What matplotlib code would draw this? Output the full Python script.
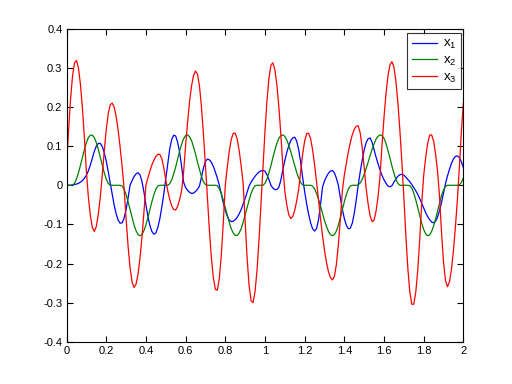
import numpy as np
import matplotlib
matplotlib.use("Agg")
import matplotlib.pyplot as plt

x_start, x_stop = 0.0, 2.0

x1 = [0.000, 0.000, 0.000, 0.001, 0.002, 0.003, 0.005, 0.008, 0.012, 0.018,
      0.026, 0.037, 0.052, 0.070, 0.087, 0.100, 0.107, 0.107, 0.099, 0.083,
      0.062, 0.035, 0.006, -0.024, -0.051, -0.073, -0.089, -0.097, -0.096, -0.084,
      -0.062, -0.033, 0.000, 0.012, 0.022, 0.029, 0.032, 0.027, 0.010, -0.017,
      -0.050, -0.079, -0.103, -0.118, -0.125, -0.122, -0.108, -0.086, -0.056, -0.022,
      0.017, 0.058, 0.093, 0.117, 0.128, 0.126, 0.110, 0.084, 0.048, 0.008,
      -0.006, -0.013, -0.018, -0.021, -0.020, -0.016, -0.010, -0.002, 0.021, 0.044,
      0.061, 0.067, 0.065, 0.059, 0.048, 0.034, 0.018, 0.000, -0.023, -0.045,
      -0.064, -0.079, -0.089, -0.093, -0.092, -0.088, -0.082, -0.073, -0.062, -0.048,
      -0.034, -0.018, -0.002, 0.008, 0.016, 0.023, 0.029, 0.034, 0.037, 0.038,
      0.036, 0.027, 0.015, 0.000, -0.007, -0.011, -0.011, -0.005, 0.013, 0.039,
      0.063, 0.084, 0.101, 0.114, 0.121, 0.123, 0.113, 0.091, 0.059, 0.020,
      -0.016, -0.047, -0.074, -0.096, -0.111, -0.117, -0.111, -0.088, -0.050, -0.005,
      0.011, 0.022, 0.031, 0.036, 0.038, 0.032, 0.018, 0.000, -0.032, -0.061,
      -0.085, -0.102, -0.111, -0.110, -0.097, -0.072, -0.038, 0.000, 0.034, 0.064,
      0.090, 0.109, 0.119, 0.121, 0.110, 0.091, 0.072, 0.055, 0.039, 0.025,
      0.014, 0.005, -0.002, -0.004, -0.001, 0.008, 0.016, 0.023, 0.027, 0.028,
      0.026, 0.021, 0.015, 0.009, 0.002, -0.006, -0.014, -0.023, -0.034, -0.046,
      -0.058, -0.070, -0.080, -0.088, -0.094, -0.096, -0.092, -0.081, -0.065, -0.044,
      -0.020, 0.004, 0.024, 0.041, 0.056, 0.067, 0.074, 0.075, 0.071, 0.060,
      0.045]

x2 = [0.000, 0.000, 0.000, 0.000, 0.005, 0.016, 0.032, 0.051, 0.072, 0.092,
      0.109, 0.122, 0.128, 0.128, 0.122, 0.109, 0.092, 0.072, 0.051, 0.032,
      0.016, 0.005, 0.000, 0.000, 0.000, 0.000, 0.000, 0.000, -0.002, -0.010,
      -0.024, -0.042, -0.062, -0.083, -0.101, -0.116, -0.126, -0.129, -0.126, -0.116,
      -0.101, -0.083, -0.062, -0.042, -0.024, -0.010, -0.002, 0.000, 0.000, 0.000,
      0.000, 0.000, 0.004, 0.014, 0.029, 0.047, 0.068, 0.088, 0.105, 0.119,
      0.127, 0.129, 0.124, 0.114, 0.098, 0.080, 0.059, 0.040, 0.022, 0.009,
      0.002, 0.000, 0.000, 0.000, 0.000, 0.000, -0.001, -0.009, -0.021, -0.038,
      -0.057, -0.076, -0.095, -0.111, -0.122, -0.128, -0.128, -0.122, -0.111, -0.095,
      -0.076, -0.057, -0.038, -0.021, -0.009, -0.001, 0.000, 0.000, 0.000, 0.000,
      0.005, 0.016, 0.032, 0.050, 0.071, 0.090, 0.107, 0.120, 0.127, 0.129,
      0.125, 0.116, 0.102, 0.086, 0.068, 0.050, 0.033, 0.018, 0.007, 0.001,
      0.000, 0.000, 0.000, 0.000, -0.002, -0.009, -0.021, -0.036, -0.053, -0.072,
      -0.090, -0.105, -0.118, -0.126, -0.129, -0.126, -0.117, -0.102, -0.083, -0.062,
      -0.042, -0.024, -0.010, -0.002, 0.000, 0.000, 0.000, 0.001, 0.006, 0.015,
      0.028, 0.043, 0.059, 0.076, 0.092, 0.106, 0.118, 0.125, 0.129, 0.127,
      0.120, 0.107, 0.089, 0.070, 0.049, 0.031, 0.015, 0.005, 0.000, 0.000,
      0.000, 0.000, 0.000, -0.001, -0.007, -0.020, -0.037, -0.057, -0.078, -0.097,
      -0.113, -0.124, -0.129, -0.127, -0.118, -0.104, -0.086, -0.066, -0.045, -0.026,
      -0.012, -0.003, 0.000, 0.000, 0.000, 0.000, 0.000, 0.000, 0.001, 0.007,
      0.019]

x3 = [0.048, 0.140, 0.219, 0.279, 0.313, 0.319, 0.300, 0.258, 0.197, 0.121,
      0.035, -0.031, -0.078, -0.108, -0.118, -0.105, -0.074, -0.030, 0.026, 0.088,
      0.142, 0.183, 0.206, 0.210, 0.200, 0.176, 0.141, 0.097, 0.048, -0.008,
      -0.085, -0.155, -0.210, -0.247, -0.261, -0.253, -0.228, -0.187, -0.133, -0.069,
      0.000, 0.019, 0.036, 0.052, 0.064, 0.074, 0.079, 0.079, 0.068, 0.045,
      0.014, -0.014, -0.036, -0.053, -0.062, -0.063, -0.054, -0.036, -0.013, 0.034,
      0.101, 0.161, 0.214, 0.254, 0.281, 0.292, 0.284, 0.253, 0.200, 0.131,
      0.051, -0.034, -0.115, -0.186, -0.237, -0.266, -0.268, -0.238, -0.178, -0.095,
      0.000, 0.046, 0.087, 0.117, 0.133, 0.133, 0.118, 0.089, 0.050, 0.005,
      -0.093, -0.186, -0.256, -0.295, -0.300, -0.272, -0.217, -0.140, -0.048, 0.047,
      0.138, 0.215, 0.273, 0.307, 0.313, 0.295, 0.257, 0.201, 0.130, 0.050,
      -0.015, -0.050, -0.075, -0.085, -0.080, -0.064, -0.040, -0.010, 0.035, 0.080,
      0.113, 0.132, 0.133, 0.119, 0.091, 0.053, 0.009, -0.038, -0.085, -0.128,
      -0.166, -0.197, -0.221, -0.236, -0.242, -0.233, -0.202, -0.152, -0.087, -0.015,
      0.026, 0.056, 0.085, 0.109, 0.129, 0.143, 0.151, 0.152, 0.134, 0.097,
      0.046, -0.008, -0.048, -0.078, -0.093, -0.089, -0.066, -0.030, 0.024, 0.102,
      0.174, 0.234, 0.280, 0.308, 0.316, 0.302, 0.266, 0.211, 0.141, 0.060,
      -0.030, -0.127, -0.211, -0.272, -0.304, -0.304, -0.274, -0.218, -0.140, -0.048,
      0.025, 0.071, 0.107, 0.128, 0.129, 0.113, 0.080, 0.035, -0.029, -0.121,
      -0.196, -0.244, -0.259, -0.247, -0.215, -0.167, -0.106, -0.036, 0.047, 0.138,
      0.211]

labels = [r"$\mathregular{x_1}$", r"$\mathregular{x_2}$", r"$\mathregular{x_3}$"]
colors = ["#0000ff", "#008000", "#ff0000"]
xticks = [0, 0.2, 0.4, 0.6, 0.8, 1, 1.2, 1.4, 1.6, 1.8, 2]
xticklabels = ["0", "0.2", "0.4", "0.6", "0.8", "1", "1.2", "1.4", "1.6", "1.8", "2"]
yticks = [-0.4, -0.3, -0.2, -0.1, 0, 0.1, 0.2, 0.3, 0.4]
yticklabels = ["-0.4", "-0.3", "-0.2", "-0.1", "0", "0.1", "0.2", "0.3", "0.4"]

plt.rcParams["font.family"] = ["Liberation Sans", "DejaVu Sans"]
plt.rcParams["mathtext.fontset"] = "custom"
plt.rcParams["mathtext.rm"] = "Liberation Sans"
n = len(x1)
t = np.linspace(x_start, x_stop, n)

fig = plt.figure(figsize=(5.12, 3.84), dpi=100, facecolor="white")
ax = fig.add_axes([0.13, 0.11, 0.775, 0.815])
for series, lab, col in zip([x1, x2, x3], labels, colors):
    ax.plot(t, series, color=col, lw=0.9, label=lab)

ax.set_xlim(0, 2)
ax.set_ylim(-0.4, 0.4)
ax.set_xticks(xticks)
ax.set_xticklabels(xticklabels)
ax.set_yticks(yticks)
ax.set_yticklabels(yticklabels)
ax.tick_params(direction="in", length=4, width=0.8, top=True, right=True,
               labelsize=8, pad=3)
for s in ax.spines.values():
    s.set_linewidth(0.8)

leg = ax.legend(loc="upper right", bbox_to_anchor=(0.995, 0.985), borderaxespad=0,
                fontsize=9.5, frameon=True, fancybox=False, handlelength=1.9,
                handletextpad=0.5, labelspacing=0.25, borderpad=0.35)
leg.get_frame().set_edgecolor("black")
leg.get_frame().set_linewidth(0.8)

fig.savefig("out.png", dpi=100, facecolor="white")
